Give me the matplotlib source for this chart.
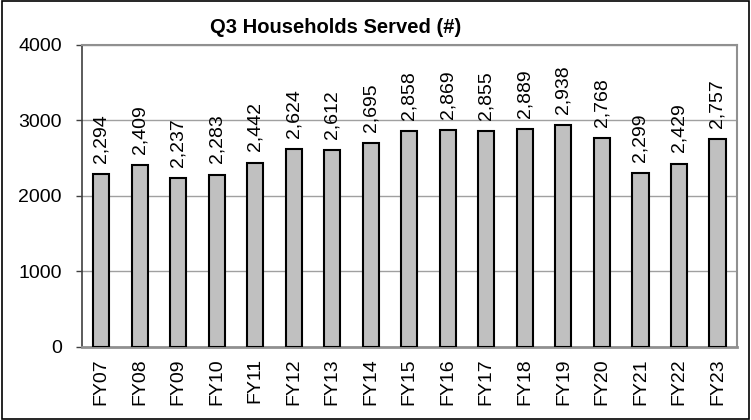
import matplotlib
matplotlib.use('Agg')

import matplotlib.pyplot as plt
from matplotlib.patches import Rectangle

years = ["FY07", "FY08", "FY09", "FY10", "FY11", "FY12", "FY13", "FY14", "FY15",
         "FY16", "FY17", "FY18", "FY19", "FY20", "FY21", "FY22", "FY23"]
households = [2294, 2409, 2237, 2283, 2442, 2624, 2612, 2695, 2858,
              2869, 2855, 2889, 2938, 2768, 2299, 2429, 2757]
y_ticks = [0, 1000, 2000, 3000, 4000]

plt.rcParams['font.family'] = ['Liberation Sans', 'DejaVu Sans']

fig = plt.figure(figsize=(7.51, 4.2), dpi=100)
ax = fig.add_axes([0.109, 0.174, 0.872, 0.719])

x = list(range(len(years)))
ax.bar(x, households, width=0.42, color="#c0c0c0", edgecolor="black", linewidth=1.5, zorder=3)

for xi, v in zip(x, households):
    ax.annotate(f"{v:,}", (xi, v), xytext=(0, 8), textcoords="offset points",
                rotation=90, ha="center", va="bottom", fontsize=14, zorder=4)

ax.set_xlim(-0.5, len(years) - 0.5)
ax.set_ylim(0, 4000)
ax.set_yticks(y_ticks)
ax.set_xticks(x)
ax.set_xticklabels(years, rotation=90)
ax.tick_params(axis="x", length=0, pad=8, labelsize=14)
ax.tick_params(axis="y", length=4.5, width=1, pad=10, labelsize=14, color="#404040")

ax.grid(axis="y", color="#a0a0a0", linewidth=1, zorder=0)
ax.spines["left"].set_color("#404040")
ax.spines["left"].set_linewidth(1.2)
for side in ["top", "right", "bottom"]:
    ax.spines[side].set_color("#909090")
    ax.spines[side].set_linewidth(1.5)
ax.spines["bottom"].set_linewidth(2)

fig.text(0.447, 0.935, "Q3 Households Served (#)", ha="center", va="center",
         fontsize=14.5, fontweight="bold")

fig.patches.append(Rectangle((0.002, 0.002), 0.996, 0.995, transform=fig.transFigure,
                             fill=False, edgecolor="black", linewidth=1.2))

fig.savefig("out.png", dpi=100)
plt.close(fig)
